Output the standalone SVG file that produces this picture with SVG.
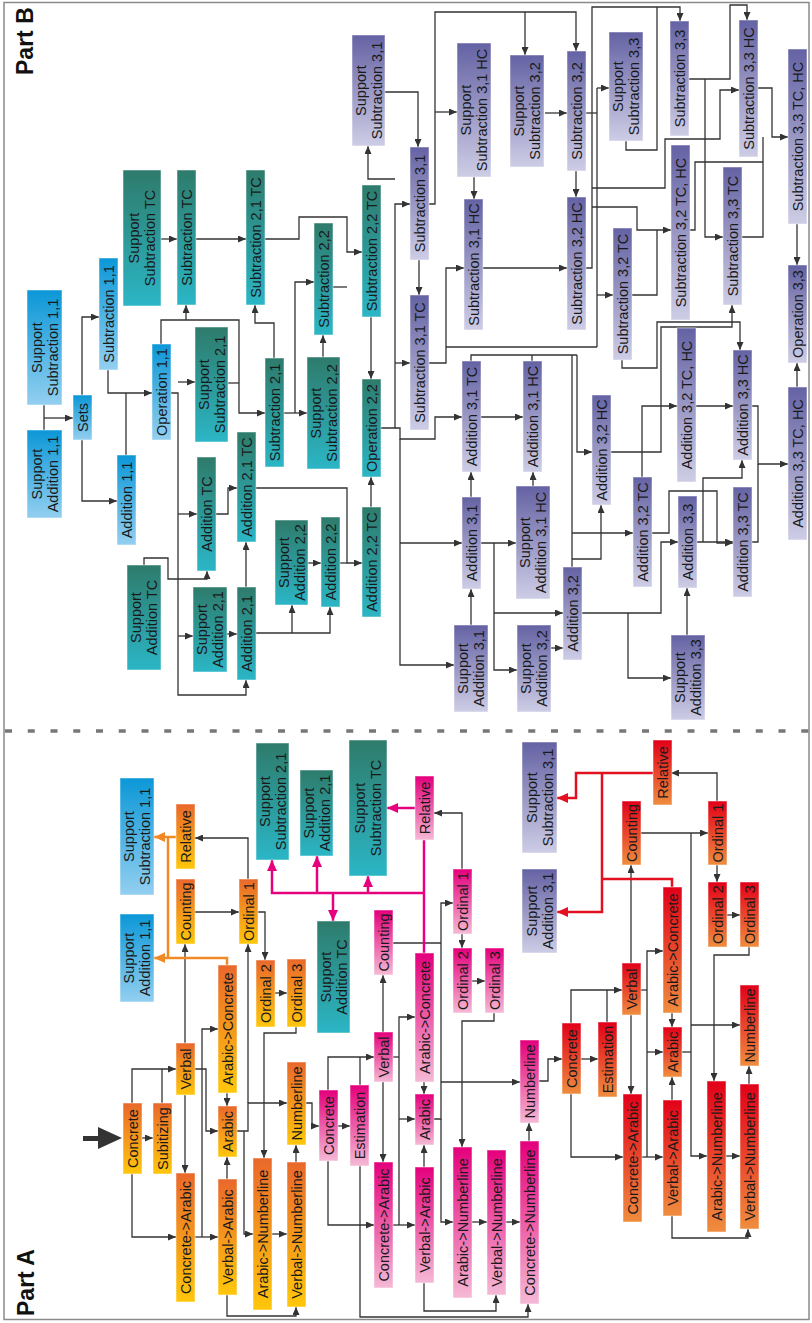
<svg xmlns="http://www.w3.org/2000/svg" width="812" height="1323" viewBox="0 0 812 1323">
<defs>
<linearGradient id="gB" x1="0" y1="0" x2="0" y2="1"><stop offset="0" stop-color="#0b97d7"/><stop offset="1" stop-color="#93cff0"/></linearGradient>
<linearGradient id="gT" x1="0" y1="0" x2="0" y2="1"><stop offset="0" stop-color="#2e7b6b"/><stop offset="1" stop-color="#2bb6c6"/></linearGradient>
<linearGradient id="gP" x1="0" y1="0" x2="0" y2="1"><stop offset="0" stop-color="#6462a3"/><stop offset="1" stop-color="#cecde6"/></linearGradient>
<linearGradient id="gO" x1="0" y1="0" x2="0" y2="1"><stop offset="0" stop-color="#e9682c"/><stop offset="1" stop-color="#ffc70b"/></linearGradient>
<linearGradient id="gK" x1="0" y1="0" x2="0" y2="1"><stop offset="0" stop-color="#e4007c"/><stop offset="1" stop-color="#f5b9d5"/></linearGradient>
<linearGradient id="gR" x1="0" y1="0" x2="0" y2="1"><stop offset="0" stop-color="#e20019"/><stop offset="1" stop-color="#ef8d3e"/></linearGradient>
<marker id="ah" markerWidth="8" markerHeight="7" refX="8" refY="3.5" orient="auto" markerUnits="userSpaceOnUse"><path d="M0,0 L8,3.5 L0,7 z" fill="#333"/></marker>
<marker id="ao" markerWidth="11" markerHeight="10" refX="11" refY="5" orient="auto" markerUnits="userSpaceOnUse"><path d="M0,0 L11,5 L0,10 z" fill="#f08a24"/></marker>
<marker id="ap" markerWidth="11" markerHeight="10" refX="11" refY="5" orient="auto" markerUnits="userSpaceOnUse"><path d="M0,0 L11,5 L0,10 z" fill="#e6007e"/></marker>
<marker id="ar" markerWidth="11" markerHeight="10" refX="11" refY="5" orient="auto" markerUnits="userSpaceOnUse"><path d="M0,0 L11,5 L0,10 z" fill="#e3101f"/></marker>
</defs>
<style>
text{font-family:"Liberation Sans",Arial,sans-serif;font-size:14.5px;fill:#1a1a1a}
.lbl{font-weight:bold;font-size:23px;fill:#111}
rect{stroke:#ffffff;stroke-opacity:0.5;stroke-width:1}
.b{fill:url(#gB)}.t{fill:url(#gT)}.p{fill:url(#gP)}.o{fill:url(#gO)}.k{fill:url(#gK)}.r{fill:url(#gR)}
.n{fill:none;stroke:#333;stroke-width:1.3}
.a{fill:none;stroke:#333;stroke-width:1.3;marker-end:url(#ah)}
.co{fill:none;stroke:#f08a24;stroke-width:2.5}
.cao{fill:none;stroke:#f08a24;stroke-width:2.5;marker-end:url(#ao)}
.cp{fill:none;stroke:#e6007e;stroke-width:2.5}
.cap{fill:none;stroke:#e6007e;stroke-width:2.5;marker-end:url(#ap)}
.cr{fill:none;stroke:#e3101f;stroke-width:2.5}
.car{fill:none;stroke:#e3101f;stroke-width:2.5;marker-end:url(#ar)}
</style>
<rect x="0" y="0" width="812" height="1323" fill="#fff" stroke="none"/>
<rect x="4" y="2.5" width="805" height="1317" fill="none" style="stroke:#8a8a8a;stroke-opacity:1;stroke-width:1.5"/>
<line x1="5" y1="731" x2="812" y2="731" stroke="#777" stroke-width="3.5" stroke-dasharray="7 15.75"/>
<text class="lbl" transform="translate(33,75) rotate(-90)">Part B</text>
<text class="lbl" transform="translate(34,1316) rotate(-90)">Part A</text>
<path d="M83,1136 H98 V1127 L122,1138 L98,1149 V1141 H83 Z" fill="#333"/>

<g id="connectors">
<path class="a" d="M142,1138 H153"/>
<path class="a" d="M132,1103 V1069 H176"/>
<path class="n" d="M162,1103 V1069"/>
<path class="a" d="M132,1174 V1237 H176"/>
<path class="a" d="M185,1095 V1173"/>
<path class="a" d="M195,1069 H206 V1131 H218"/>
<path class="a" d="M195,1237 H218"/>
<path class="a" d="M202,1237 V1029 H218"/>
<path class="a" d="M227,1093 V1106"/>
<path class="a" d="M227,1179 V1157"/>
<path class="a" d="M237,1131 H248 V1103 H287"/>
<path class="a" d="M248,1103 V944"/>
<path class="a" d="M244,1131 V1234 H253"/>
<path class="a" d="M185,1043 V944"/>
<path class="a" d="M195,912 H239"/>
<path class="a" d="M248,879 V838 H195"/>
<path class="a" d="M258,912 H265 V960"/>
<path class="a" d="M275,993 H287"/>
<path class="a" d="M296,1027 V1033 H264 V1158"/>
<path class="a" d="M296,1162 V1145"/>
<path class="a" d="M272,1234 H287"/>
<path class="a" d="M227,1295 V1316 H296 V1307"/>
<path class="a" d="M306,1103 H312 V1126 H319"/>
<path class="a" d="M338,1126 H350"/>
<path class="a" d="M328,1090 V1057 H374"/>
<path class="n" d="M360,1085 V1057"/>
<path class="a" d="M328,1161 V1225 H374"/>
<path class="a" d="M383,1082 V1162"/>
<path class="a" d="M383,1032 V975"/>
<path class="n" d="M393,1057 H399"/>
<path class="a" d="M393,1225 H415"/>
<path class="a" d="M399,1225 V1017 H415"/>
<path class="a" d="M399,1119 H415"/>
<path class="a" d="M424,1082 V1094"/>
<path class="a" d="M424,1167 V1145"/>
<path class="a" d="M434,1119 H441 V903 H453"/>
<path class="n" d="M393,943 H441"/>
<path class="a" d="M441,1082 H520"/>
<path class="a" d="M441,1119 V1222 H453"/>
<path class="a" d="M462,869 V813 H434"/>
<path class="a" d="M462,934 V948"/>
<path class="a" d="M472,981 H485"/>
<path class="a" d="M494,1013 V1021 H462 V1147"/>
<path class="a" d="M472,1222 H487"/>
<path class="a" d="M506,1222 H520"/>
<path class="a" d="M529,1141 V1123"/>
<path class="a" d="M424,1283 V1311 H496 V1295"/>
<path class="a" d="M360,1166 V1317 H528 V1304"/>
<path class="a" d="M538,1081 H548 V1059 H562"/>
<path class="a" d="M580,1059 H598"/>
<path class="a" d="M571,1023 V990 H622"/>
<path class="n" d="M607,1022 V990"/>
<path class="a" d="M571,1094 V1157 H623"/>
<path class="a" d="M631,1015 V1094"/>
<path class="a" d="M631,963 V865"/>
<path class="n" d="M641,990 H647"/>
<path class="a" d="M647,1157 V951 H663"/>
<path class="a" d="M647,1052 H663"/>
<path class="a" d="M642,1157 H663"/>
<path class="a" d="M672,1013 V1027"/>
<path class="a" d="M672,1100 V1077"/>
<path class="n" d="M682,1052 H691"/>
<path class="a" d="M641,833 H708"/>
<path class="a" d="M691,833 V1156 H707"/>
<path class="a" d="M691,1025 H740"/>
<path class="a" d="M717,801 V773 H671"/>
<path class="a" d="M717,865 V882"/>
<path class="a" d="M727,915 H740"/>
<path class="a" d="M749,947 V955 H714 V1081"/>
<path class="a" d="M726,1156 H740"/>
<path class="a" d="M749,1084 V1066"/>
<path class="a" d="M672,1216 V1238 H748 V1229"/>
<path class="cao" d="M176,837 H154"/>
<path class="co" d="M168,837 V958"/>
<path class="cao" d="M227,965 V958 H154"/>
<path class="cp" d="M424,953 V840"/>
<path class="cap" d="M415,808 H387"/>
<path class="cap" d="M424,893 H272 V860"/>
<path class="cap" d="M317,893 V856"/>
<path class="cap" d="M368,893 V876"/>
<path class="cap" d="M333,893 V921"/>
<path class="car" d="M653,773 H576 V798 H557"/>
<path class="car" d="M602,773 V912 H557"/>
<path class="cr" d="M672,887 V879 H602"/>
<path class="n" d="M44,405 V430"/>
<path class="a" d="M44,418 H73"/>
<path class="a" d="M82,440 V501 H117"/>
<path class="a" d="M82,395 V317 H99"/>
<path class="a" d="M108,370 V393 H152"/>
<path class="n" d="M126,455 V393"/>
<path class="a" d="M161,344 V320 H239 V413 H265"/>
<path class="a" d="M186,320 V305"/>
<path class="n" d="M228,383 H239"/>
<path class="a" d="M170,393 H178 V695 H246 V680"/>
<path class="a" d="M178,382 H195"/>
<path class="a" d="M178,514 H197"/>
<path class="a" d="M178,636 H193"/>
<path class="a" d="M216,514 H228 V488 H237"/>
<path class="a" d="M144,565 V558 H168 V579 H207 V571"/>
<path class="a" d="M227,634 H237"/>
<path class="a" d="M246,587 V542"/>
<path class="a" d="M256,633 H330 V607"/>
<path class="a" d="M292,633 V605"/>
<path class="a" d="M256,488 H347 V563 H362"/>
<path class="n" d="M340,563 H347"/>
<path class="a" d="M308,563 H321"/>
<path class="a" d="M371,507 V477"/>
<path class="a" d="M161,239 H177"/>
<path class="a" d="M196,239 H246"/>
<path class="a" d="M265,239 H299 V217 H347 V252 H362"/>
<path class="n" d="M333,287 H347"/>
<path class="a" d="M274,358 V323 H255 V305"/>
<path class="a" d="M284,413 H307"/>
<path class="a" d="M295,413 V282 H314"/>
<path class="a" d="M323,357 V335"/>
<path class="a" d="M371,317 V379"/>
<path class="a" d="M381,428 H395 V204 H410"/>
<path class="a" d="M395,363 H410"/>
<path class="a" d="M395,179 H368 V146"/>
<path class="a" d="M395,428 H400 V439 H435 V417 H462"/>
<path class="a" d="M400,439 V665 H454"/>
<path class="a" d="M400,543 H462"/>
<path class="a" d="M385,92 H418 V147"/>
<path class="a" d="M419,260 V295"/>
<path class="a" d="M429,204 H435 V12 H576 V51"/>
<path class="a" d="M525,12 V55"/>
<path class="a" d="M435,112 H457"/>
<path class="a" d="M474,177 V199"/>
<path class="a" d="M483,268 H567"/>
<path class="a" d="M429,363 H446 V268 H464"/>
<path class="n" d="M446,347 H597"/>
<path class="n" d="M586,113 H597"/>
<path class="n" d="M597,88 V347"/>
<path class="a" d="M597,88 H609"/>
<path class="a" d="M597,295 H613"/>
<path class="a" d="M545,113 H567"/>
<path class="a" d="M576,171 V197"/>
<path class="a" d="M586,268 H592 V7 H680 V21"/>
<path class="n" d="M626,141 V150 H657 V7"/>
<path class="a" d="M592,207 H637 V230 H671"/>
<path class="n" d="M632,295 H657 V230"/>
<path class="a" d="M689,79 H730 V5 H747 V20"/>
<path class="a" d="M705,79 V237 H723"/>
<path class="a" d="M757,88 H772 V137 H788"/>
<path class="n" d="M741,237 H763 V137"/>
<path class="n" d="M690,230 H695 V162 H763"/>
<path class="a" d="M592,188 H665 V139 H720 V90 H739"/>
<path class="a" d="M622,360 V368 H657 V322 H740 V350"/>
<path class="a" d="M611,452 H661 V327 H732 V305"/>
<path class="a" d="M797,224 V265"/>
<path class="a" d="M797,387 V363"/>
<path class="a" d="M471,497 V472"/>
<path class="a" d="M481,417 H523"/>
<path class="a" d="M533,486 V472"/>
<path class="a" d="M481,543 H516"/>
<path class="a" d="M494,543 V670 H517"/>
<path class="a" d="M494,613 H563"/>
<path class="a" d="M471,625 V589"/>
<path class="a" d="M551,648 H563"/>
<path class="n" d="M471,361 V355 H577"/>
<path class="n" d="M532,361 V355"/>
<path class="n" d="M572,355 V567"/>
<path class="a" d="M577,355 V452 H592"/>
<path class="a" d="M572,533 H633"/>
<path class="a" d="M572,559 H601 V505"/>
<path class="a" d="M642,477 V406 H677"/>
<path class="a" d="M652,533 H669 V491 H717 V543 H733"/>
<path class="a" d="M582,613 H661 V542 H678"/>
<path class="a" d="M628,613 V678 H671"/>
<path class="a" d="M687,635 V588"/>
<path class="a" d="M697,542 H733"/>
<path class="a" d="M703,542 V478 H742 V460"/>
<path class="a" d="M696,406 H733"/>
<path class="a" d="M752,406 H758 V464 H788"/>
<path class="n" d="M752,542 H758 V464"/>
</g>

<g id="B_sa11"><rect class="b" x="27" y="430" width="35" height="88"/><text transform="translate(44.5,474) rotate(-90)" text-anchor="middle"><tspan x="0" y="-3">Support</tspan><tspan x="0" y="13">Addition 1,1</tspan></text></g>
<g id="B_ss11"><rect class="b" x="27" y="290" width="35" height="115"/><text transform="translate(44.5,347.5) rotate(-90)" text-anchor="middle"><tspan x="0" y="-3">Support</tspan><tspan x="0" y="13">Subtraction 1,1</tspan></text></g>
<g id="B_sets"><rect class="b" x="73" y="395" width="19" height="45"/><text transform="translate(82.5,417.5) rotate(-90)" text-anchor="middle" y="5">Sets</text></g>
<g id="B_add11"><rect class="b" x="117" y="455" width="19" height="90"/><text transform="translate(126.5,500) rotate(-90)" text-anchor="middle" y="5">Addition 1,1</text></g>
<g id="B_sub11"><rect class="b" x="99" y="258" width="19" height="112"/><text transform="translate(108.5,314) rotate(-90)" text-anchor="middle" y="5">Subtraction 1,1</text></g>
<g id="B_op11"><rect class="b" x="152" y="344" width="19" height="96"/><text transform="translate(161.5,392) rotate(-90)" text-anchor="middle" y="5">Operation 1,1</text></g>
<g id="B_sstc"><rect class="t" x="123" y="170" width="38" height="136"/><text transform="translate(142,238) rotate(-90)" text-anchor="middle"><tspan x="0" y="-3">Support</tspan><tspan x="0" y="13">Subtraction TC</tspan></text></g>
<g id="B_subtc"><rect class="t" x="177" y="170" width="19" height="135"/><text transform="translate(186.5,237.5) rotate(-90)" text-anchor="middle" y="5">Subtraction TC</text></g>
<g id="B_sub21tc"><rect class="t" x="246" y="170" width="19" height="135"/><text transform="translate(255.5,237.5) rotate(-90)" text-anchor="middle" y="5">Subtraction 2,1 TC</text></g>
<g id="B_ss21"><rect class="t" x="195" y="327" width="33" height="115"/><text transform="translate(211.5,384.5) rotate(-90)" text-anchor="middle"><tspan x="0" y="-3">Support</tspan><tspan x="0" y="13">Subtraction 2,1</tspan></text></g>
<g id="B_sub21"><rect class="t" x="265" y="358" width="19" height="109"/><text transform="translate(274.5,412.5) rotate(-90)" text-anchor="middle" y="5">Subtraction 2,1</text></g>
<g id="B_ss22"><rect class="t" x="307" y="357" width="33" height="112"/><text transform="translate(323.5,413) rotate(-90)" text-anchor="middle"><tspan x="0" y="-3">Support</tspan><tspan x="0" y="13">Subtraction 2,2</tspan></text></g>
<g id="B_sub22"><rect class="t" x="314" y="223" width="19" height="112"/><text transform="translate(323.5,279) rotate(-90)" text-anchor="middle" y="5">Subtraction 2,2</text></g>
<g id="B_sub22tc"><rect class="t" x="362" y="185" width="19" height="132"/><text transform="translate(371.5,251) rotate(-90)" text-anchor="middle" y="5">Subtraction 2,2 TC</text></g>
<g id="B_op22"><rect class="t" x="362" y="379" width="19" height="98"/><text transform="translate(371.5,428) rotate(-90)" text-anchor="middle" y="5">Operation 2,2</text></g>
<g id="B_add22tc"><rect class="t" x="362" y="507" width="19" height="110"/><text transform="translate(371.5,562) rotate(-90)" text-anchor="middle" y="5">Addition 2,2 TC</text></g>
<g id="B_add22"><rect class="t" x="321" y="517" width="19" height="90"/><text transform="translate(330.5,562) rotate(-90)" text-anchor="middle" y="5">Addition 2,2</text></g>
<g id="B_sa22"><rect class="t" x="275" y="520" width="33" height="85"/><text transform="translate(291.5,562.5) rotate(-90)" text-anchor="middle"><tspan x="0" y="-3">Support</tspan><tspan x="0" y="13">Addition 2,2</tspan></text></g>
<g id="B_add21tc"><rect class="t" x="237" y="432" width="19" height="110"/><text transform="translate(246.5,487) rotate(-90)" text-anchor="middle" y="5">Addition 2,1 TC</text></g>
<g id="B_addtc"><rect class="t" x="197" y="457" width="19" height="114"/><text transform="translate(206.5,514) rotate(-90)" text-anchor="middle" y="5">Addition TC</text></g>
<g id="B_satc"><rect class="t" x="127" y="565" width="34" height="105"/><text transform="translate(144,617.5) rotate(-90)" text-anchor="middle"><tspan x="0" y="-3">Support</tspan><tspan x="0" y="13">Addition TC</tspan></text></g>
<g id="B_sa21"><rect class="t" x="193" y="587" width="34" height="85"/><text transform="translate(210,629.5) rotate(-90)" text-anchor="middle"><tspan x="0" y="-3">Support</tspan><tspan x="0" y="13">Addition 2,1</tspan></text></g>
<g id="B_add21"><rect class="t" x="237" y="587" width="19" height="93"/><text transform="translate(246.5,633.5) rotate(-90)" text-anchor="middle" y="5">Addition 2,1</text></g>
<g id="B_ss31"><rect class="p" x="352" y="35" width="33" height="111"/><text transform="translate(368.5,90.5) rotate(-90)" text-anchor="middle"><tspan x="0" y="-3">Support</tspan><tspan x="0" y="13">Subtraction 3,1</tspan></text></g>
<g id="B_sub31"><rect class="p" x="410" y="147" width="19" height="113"/><text transform="translate(419.5,203.5) rotate(-90)" text-anchor="middle" y="5">Subtraction 3,1</text></g>
<g id="B_sub31tc"><rect class="p" x="410" y="295" width="19" height="135"/><text transform="translate(419.5,362.5) rotate(-90)" text-anchor="middle" y="5">Subtraction 3,1 TC</text></g>
<g id="B_ss31hc"><rect class="p" x="457" y="43" width="34" height="134"/><text transform="translate(474,110) rotate(-90)" text-anchor="middle"><tspan x="0" y="-3">Support</tspan><tspan x="0" y="13">Subtraction 3,1 HC</tspan></text></g>
<g id="B_sub31hc"><rect class="p" x="464" y="199" width="19" height="131"/><text transform="translate(473.5,264.5) rotate(-90)" text-anchor="middle" y="5">Subtraction 3,1 HC</text></g>
<g id="B_ss32"><rect class="p" x="510" y="55" width="34" height="112"/><text transform="translate(527,111) rotate(-90)" text-anchor="middle"><tspan x="0" y="-3">Support</tspan><tspan x="0" y="13">Subtraction 3,2</tspan></text></g>
<g id="B_sub32"><rect class="p" x="567" y="51" width="19" height="120"/><text transform="translate(576.5,111) rotate(-90)" text-anchor="middle" y="5">Subtraction 3,2</text></g>
<g id="B_sub32hc"><rect class="p" x="567" y="197" width="19" height="133"/><text transform="translate(576.5,263.5) rotate(-90)" text-anchor="middle" y="5">Subtraction 3,2 HC</text></g>
<g id="B_ss33"><rect class="p" x="609" y="32" width="34" height="109"/><text transform="translate(626,86.5) rotate(-90)" text-anchor="middle"><tspan x="0" y="-3">Support</tspan><tspan x="0" y="13">Subtraction 3,3</tspan></text></g>
<g id="B_sub32tc"><rect class="p" x="613" y="228" width="19" height="132"/><text transform="translate(622.5,294) rotate(-90)" text-anchor="middle" y="5">Subtraction 3,2 TC</text></g>
<g id="B_sub33"><rect class="p" x="670" y="21" width="19" height="115"/><text transform="translate(679.5,78.5) rotate(-90)" text-anchor="middle" y="5">Subtraction 3,3</text></g>
<g id="B_sub32tchc"><rect class="p" x="671" y="145" width="19" height="175"/><text transform="translate(680.5,232.5) rotate(-90)" text-anchor="middle" y="5">Subtraction 3,2 TC, HC</text></g>
<g id="B_sub33hc"><rect class="p" x="739" y="20" width="19" height="137"/><text transform="translate(748.5,88.5) rotate(-90)" text-anchor="middle" y="5">Subtraction 3,3 HC</text></g>
<g id="B_sub33tc"><rect class="p" x="723" y="167" width="19" height="138"/><text transform="translate(732.5,236) rotate(-90)" text-anchor="middle" y="5">Subtraction 3,3 TC</text></g>
<g id="B_sub33tchc"><rect class="p" x="788" y="49" width="19" height="175"/><text transform="translate(797.5,136.5) rotate(-90)" text-anchor="middle" y="5">Subtraction 3,3 TC, HC</text></g>
<g id="B_op33"><rect class="p" x="788" y="265" width="19" height="98"/><text transform="translate(797.5,314) rotate(-90)" text-anchor="middle" y="5">Operation 3,3</text></g>
<g id="B_add33tchc"><rect class="p" x="788" y="387" width="19" height="153"/><text transform="translate(797.5,463.5) rotate(-90)" text-anchor="middle" y="5">Addition 3,3 TC, HC</text></g>
<g id="B_add31tc"><rect class="p" x="462" y="361" width="19" height="111"/><text transform="translate(471.5,416.5) rotate(-90)" text-anchor="middle" y="5">Addition 3,1 TC</text></g>
<g id="B_add31hc"><rect class="p" x="523" y="361" width="19" height="111"/><text transform="translate(532.5,416.5) rotate(-90)" text-anchor="middle" y="5">Addition 3,1 HC</text></g>
<g id="B_add31"><rect class="p" x="462" y="497" width="19" height="92"/><text transform="translate(471.5,543) rotate(-90)" text-anchor="middle" y="5">Addition 3,1</text></g>
<g id="B_sa31hc"><rect class="p" x="516" y="486" width="34" height="113"/><text transform="translate(533,542.5) rotate(-90)" text-anchor="middle"><tspan x="0" y="-3">Support</tspan><tspan x="0" y="13">Addition 3,1 HC</tspan></text></g>
<g id="B_sa31"><rect class="p" x="454" y="625" width="34" height="87"/><text transform="translate(471,668.5) rotate(-90)" text-anchor="middle"><tspan x="0" y="-3">Support</tspan><tspan x="0" y="13">Addition 3,1</tspan></text></g>
<g id="B_sa32"><rect class="p" x="517" y="625" width="34" height="87"/><text transform="translate(534,668.5) rotate(-90)" text-anchor="middle"><tspan x="0" y="-3">Support</tspan><tspan x="0" y="13">Addition 3,2</tspan></text></g>
<g id="B_add32"><rect class="p" x="563" y="567" width="19" height="93"/><text transform="translate(572.5,613.5) rotate(-90)" text-anchor="middle" y="5">Addition 3,2</text></g>
<g id="B_add32hc"><rect class="p" x="592" y="395" width="19" height="110"/><text transform="translate(601.5,450) rotate(-90)" text-anchor="middle" y="5">Addition 3,2 HC</text></g>
<g id="B_add32tc"><rect class="p" x="633" y="477" width="19" height="110"/><text transform="translate(642.5,532) rotate(-90)" text-anchor="middle" y="5">Addition 3,2 TC</text></g>
<g id="B_add32tchc"><rect class="p" x="677" y="328" width="19" height="154"/><text transform="translate(686.5,405) rotate(-90)" text-anchor="middle" y="5">Addition 3,2 TC, HC</text></g>
<g id="B_add33hc"><rect class="p" x="733" y="350" width="19" height="110"/><text transform="translate(742.5,405) rotate(-90)" text-anchor="middle" y="5">Addition 3,3 HC</text></g>
<g id="B_add33"><rect class="p" x="678" y="496" width="19" height="92"/><text transform="translate(687.5,542) rotate(-90)" text-anchor="middle" y="5">Addition 3,3</text></g>
<g id="B_add33tc"><rect class="p" x="733" y="487" width="19" height="110"/><text transform="translate(742.5,542) rotate(-90)" text-anchor="middle" y="5">Addition 3,3 TC</text></g>
<g id="B_sa33"><rect class="p" x="671" y="635" width="34" height="85"/><text transform="translate(688,677.5) rotate(-90)" text-anchor="middle"><tspan x="0" y="-3">Support</tspan><tspan x="0" y="13">Addition 3,3</tspan></text></g>

<g id="A_sa11"><rect class="b" x="120" y="914" width="34" height="88"/><text transform="translate(137,958) rotate(-90)" text-anchor="middle"><tspan x="0" y="-3">Support</tspan><tspan x="0" y="13">Addition 1,1</tspan></text></g>
<g id="A_ss11"><rect class="b" x="120" y="778" width="34" height="117"/><text transform="translate(137,836.5) rotate(-90)" text-anchor="middle"><tspan x="0" y="-3">Support</tspan><tspan x="0" y="13">Subtraction 1,1</tspan></text></g>
<g id="O_rel"><rect class="o" x="176" y="804" width="19" height="65"/><text transform="translate(185.5,836.5) rotate(-90)" text-anchor="middle" y="5">Relative</text></g>
<g id="O_cnt"><rect class="o" x="176" y="879" width="19" height="65"/><text transform="translate(185.5,911.5) rotate(-90)" text-anchor="middle" y="5">Counting</text></g>
<g id="O_ord1"><rect class="o" x="239" y="879" width="19" height="65"/><text transform="translate(248.5,911.5) rotate(-90)" text-anchor="middle" y="5">Ordinal 1</text></g>
<g id="O_ord2"><rect class="o" x="256" y="960" width="19" height="67"/><text transform="translate(265.5,993.5) rotate(-90)" text-anchor="middle" y="5">Ordinal 2</text></g>
<g id="O_ord3"><rect class="o" x="287" y="959" width="19" height="68"/><text transform="translate(296.5,993) rotate(-90)" text-anchor="middle" y="5">Ordinal 3</text></g>
<g id="O_con"><rect class="o" x="123" y="1103" width="19" height="71"/><text transform="translate(132.5,1138.5) rotate(-90)" text-anchor="middle" y="5">Concrete</text></g>
<g id="O_sub"><rect class="o" x="153" y="1103" width="19" height="71"/><text transform="translate(162.5,1138.5) rotate(-90)" text-anchor="middle" y="5">Subitizing</text></g>
<g id="O_verb"><rect class="o" x="176" y="1043" width="19" height="52"/><text transform="translate(185.5,1069) rotate(-90)" text-anchor="middle" y="5">Verbal</text></g>
<g id="O_c2a"><rect class="o" x="176" y="1173" width="19" height="129"/><text transform="translate(185.5,1237.5) rotate(-90)" text-anchor="middle" y="5">Concrete-&gt;Arabic</text></g>
<g id="O_a2c"><rect class="o" x="218" y="965" width="19" height="128"/><text transform="translate(227.5,1029) rotate(-90)" text-anchor="middle" y="5">Arabic-&gt;Concrete</text></g>
<g id="O_ara"><rect class="o" x="218" y="1106" width="19" height="51"/><text transform="translate(227.5,1131.5) rotate(-90)" text-anchor="middle" y="5">Arabic</text></g>
<g id="O_v2a"><rect class="o" x="218" y="1179" width="19" height="116"/><text transform="translate(227.5,1237) rotate(-90)" text-anchor="middle" y="5">Verbal-&gt;Arabic</text></g>
<g id="O_a2n"><rect class="o" x="253" y="1158" width="19" height="152"/><text transform="translate(262.5,1234) rotate(-90)" text-anchor="middle" y="5">Arabic-&gt;Numberline</text></g>
<g id="O_num"><rect class="o" x="287" y="1062" width="19" height="83"/><text transform="translate(296.5,1103.5) rotate(-90)" text-anchor="middle" y="5">Numberline</text></g>
<g id="O_v2n"><rect class="o" x="287" y="1162" width="19" height="145"/><text transform="translate(296.5,1234.5) rotate(-90)" text-anchor="middle" y="5">Verbal-&gt;Numberline</text></g>
<g id="A_ss21"><rect class="t" x="256" y="743" width="33" height="117"/><text transform="translate(272.5,801.5) rotate(-90)" text-anchor="middle"><tspan x="0" y="-3">Support</tspan><tspan x="0" y="13">Subtraction 2,1</tspan></text></g>
<g id="A_sa21"><rect class="t" x="300" y="770" width="33" height="86"/><text transform="translate(316.5,813) rotate(-90)" text-anchor="middle"><tspan x="0" y="-3">Support</tspan><tspan x="0" y="13">Addition 2,1</tspan></text></g>
<g id="A_sstc"><rect class="t" x="349" y="740" width="38" height="136"/><text transform="translate(368,808) rotate(-90)" text-anchor="middle"><tspan x="0" y="-3">Support</tspan><tspan x="0" y="13">Subtraction TC</tspan></text></g>
<g id="A_satc"><rect class="t" x="317" y="921" width="33" height="112"/><text transform="translate(333.5,977) rotate(-90)" text-anchor="middle"><tspan x="0" y="-3">Support</tspan><tspan x="0" y="13">Addition TC</tspan></text></g>
<g id="K_rel"><rect class="k" x="415" y="776" width="19" height="64"/><text transform="translate(424.5,808) rotate(-90)" text-anchor="middle" y="5">Relative</text></g>
<g id="K_ord1"><rect class="k" x="453" y="869" width="19" height="65"/><text transform="translate(462.5,901.5) rotate(-90)" text-anchor="middle" y="5">Ordinal 1</text></g>
<g id="K_cnt"><rect class="k" x="374" y="910" width="19" height="65"/><text transform="translate(383.5,942.5) rotate(-90)" text-anchor="middle" y="5">Counting</text></g>
<g id="K_a2c"><rect class="k" x="415" y="953" width="19" height="129"/><text transform="translate(424.5,1017.5) rotate(-90)" text-anchor="middle" y="5">Arabic-&gt;Concrete</text></g>
<g id="K_ord2"><rect class="k" x="453" y="948" width="19" height="65"/><text transform="translate(462.5,980.5) rotate(-90)" text-anchor="middle" y="5">Ordinal 2</text></g>
<g id="K_ord3"><rect class="k" x="485" y="948" width="19" height="65"/><text transform="translate(494.5,980.5) rotate(-90)" text-anchor="middle" y="5">Ordinal 3</text></g>
<g id="K_con"><rect class="k" x="319" y="1090" width="19" height="71"/><text transform="translate(328.5,1125.5) rotate(-90)" text-anchor="middle" y="5">Concrete</text></g>
<g id="K_est"><rect class="k" x="350" y="1085" width="19" height="81"/><text transform="translate(359.5,1125.5) rotate(-90)" text-anchor="middle" y="5">Estimation</text></g>
<g id="K_verb"><rect class="k" x="374" y="1032" width="19" height="50"/><text transform="translate(383.5,1057) rotate(-90)" text-anchor="middle" y="5">Verbal</text></g>
<g id="K_c2a"><rect class="k" x="374" y="1162" width="19" height="126"/><text transform="translate(383.5,1225) rotate(-90)" text-anchor="middle" y="5">Concrete-&gt;Arabic</text></g>
<g id="K_ara"><rect class="k" x="415" y="1094" width="19" height="51"/><text transform="translate(424.5,1119.5) rotate(-90)" text-anchor="middle" y="5">Arabic</text></g>
<g id="K_v2a"><rect class="k" x="415" y="1167" width="19" height="116"/><text transform="translate(424.5,1225) rotate(-90)" text-anchor="middle" y="5">Verbal-&gt;Arabic</text></g>
<g id="K_a2n"><rect class="k" x="453" y="1147" width="19" height="151"/><text transform="translate(462.5,1222.5) rotate(-90)" text-anchor="middle" y="5">Arabic-&gt;Numberline</text></g>
<g id="K_v2n"><rect class="k" x="487" y="1150" width="19" height="145"/><text transform="translate(496.5,1222.5) rotate(-90)" text-anchor="middle" y="5">Verbal-&gt;Numberline</text></g>
<g id="K_num"><rect class="k" x="520" y="1040" width="19" height="83"/><text transform="translate(529.5,1081.5) rotate(-90)" text-anchor="middle" y="5">Numberline</text></g>
<g id="K_c2n"><rect class="k" x="520" y="1141" width="19" height="163"/><text transform="translate(529.5,1222.5) rotate(-90)" text-anchor="middle" y="5">Concrete-&gt;Numberline</text></g>
<g id="A_ss31"><rect class="p" x="522" y="742" width="35" height="111"/><text transform="translate(539.5,797.5) rotate(-90)" text-anchor="middle"><tspan x="0" y="-3">Support</tspan><tspan x="0" y="13">Subtraction 3,1</tspan></text></g>
<g id="A_sa31"><rect class="p" x="522" y="869" width="35" height="84"/><text transform="translate(539.5,911) rotate(-90)" text-anchor="middle"><tspan x="0" y="-3">Support</tspan><tspan x="0" y="13">Addition 3,1</tspan></text></g>
<g id="R_rel"><rect class="r" x="653" y="740" width="19" height="65"/><text transform="translate(662.5,772.5) rotate(-90)" text-anchor="middle" y="5">Relative</text></g>
<g id="R_cnt"><rect class="r" x="622" y="801" width="19" height="64"/><text transform="translate(631.5,833) rotate(-90)" text-anchor="middle" y="5">Counting</text></g>
<g id="R_ord1"><rect class="r" x="708" y="801" width="19" height="64"/><text transform="translate(717.5,833) rotate(-90)" text-anchor="middle" y="5">Ordinal 1</text></g>
<g id="R_ord2"><rect class="r" x="708" y="882" width="19" height="65"/><text transform="translate(717.5,914.5) rotate(-90)" text-anchor="middle" y="5">Ordinal 2</text></g>
<g id="R_ord3"><rect class="r" x="740" y="882" width="19" height="65"/><text transform="translate(749.5,914.5) rotate(-90)" text-anchor="middle" y="5">Ordinal 3</text></g>
<g id="R_a2c"><rect class="r" x="663" y="887" width="19" height="126"/><text transform="translate(672.5,950) rotate(-90)" text-anchor="middle" y="5">Arabic-&gt;Concrete</text></g>
<g id="R_verb"><rect class="r" x="622" y="963" width="19" height="52"/><text transform="translate(631.5,989) rotate(-90)" text-anchor="middle" y="5">Verbal</text></g>
<g id="R_con"><rect class="r" x="562" y="1023" width="19" height="71"/><text transform="translate(571.5,1058.5) rotate(-90)" text-anchor="middle" y="5">Concrete</text></g>
<g id="R_est"><rect class="r" x="598" y="1022" width="19" height="75"/><text transform="translate(607.5,1059.5) rotate(-90)" text-anchor="middle" y="5">Estimation</text></g>
<g id="R_c2a"><rect class="r" x="623" y="1094" width="19" height="128"/><text transform="translate(632.5,1158) rotate(-90)" text-anchor="middle" y="5">Concrete-&gt;Arabic</text></g>
<g id="R_ara"><rect class="r" x="663" y="1027" width="19" height="50"/><text transform="translate(672.5,1052) rotate(-90)" text-anchor="middle" y="5">Arabic</text></g>
<g id="R_v2a"><rect class="r" x="663" y="1100" width="19" height="116"/><text transform="translate(672.5,1158) rotate(-90)" text-anchor="middle" y="5">Verbal-&gt;Arabic</text></g>
<g id="R_a2n"><rect class="r" x="707" y="1081" width="19" height="151"/><text transform="translate(716.5,1156.5) rotate(-90)" text-anchor="middle" y="5">Arabic-&gt;Numberline</text></g>
<g id="R_v2n"><rect class="r" x="740" y="1084" width="19" height="145"/><text transform="translate(749.5,1156.5) rotate(-90)" text-anchor="middle" y="5">Verbal-&gt;Numberline</text></g>
<g id="R_num"><rect class="r" x="740" y="985" width="19" height="81"/><text transform="translate(749.5,1025.5) rotate(-90)" text-anchor="middle" y="5">Numberline</text></g>
</svg>
